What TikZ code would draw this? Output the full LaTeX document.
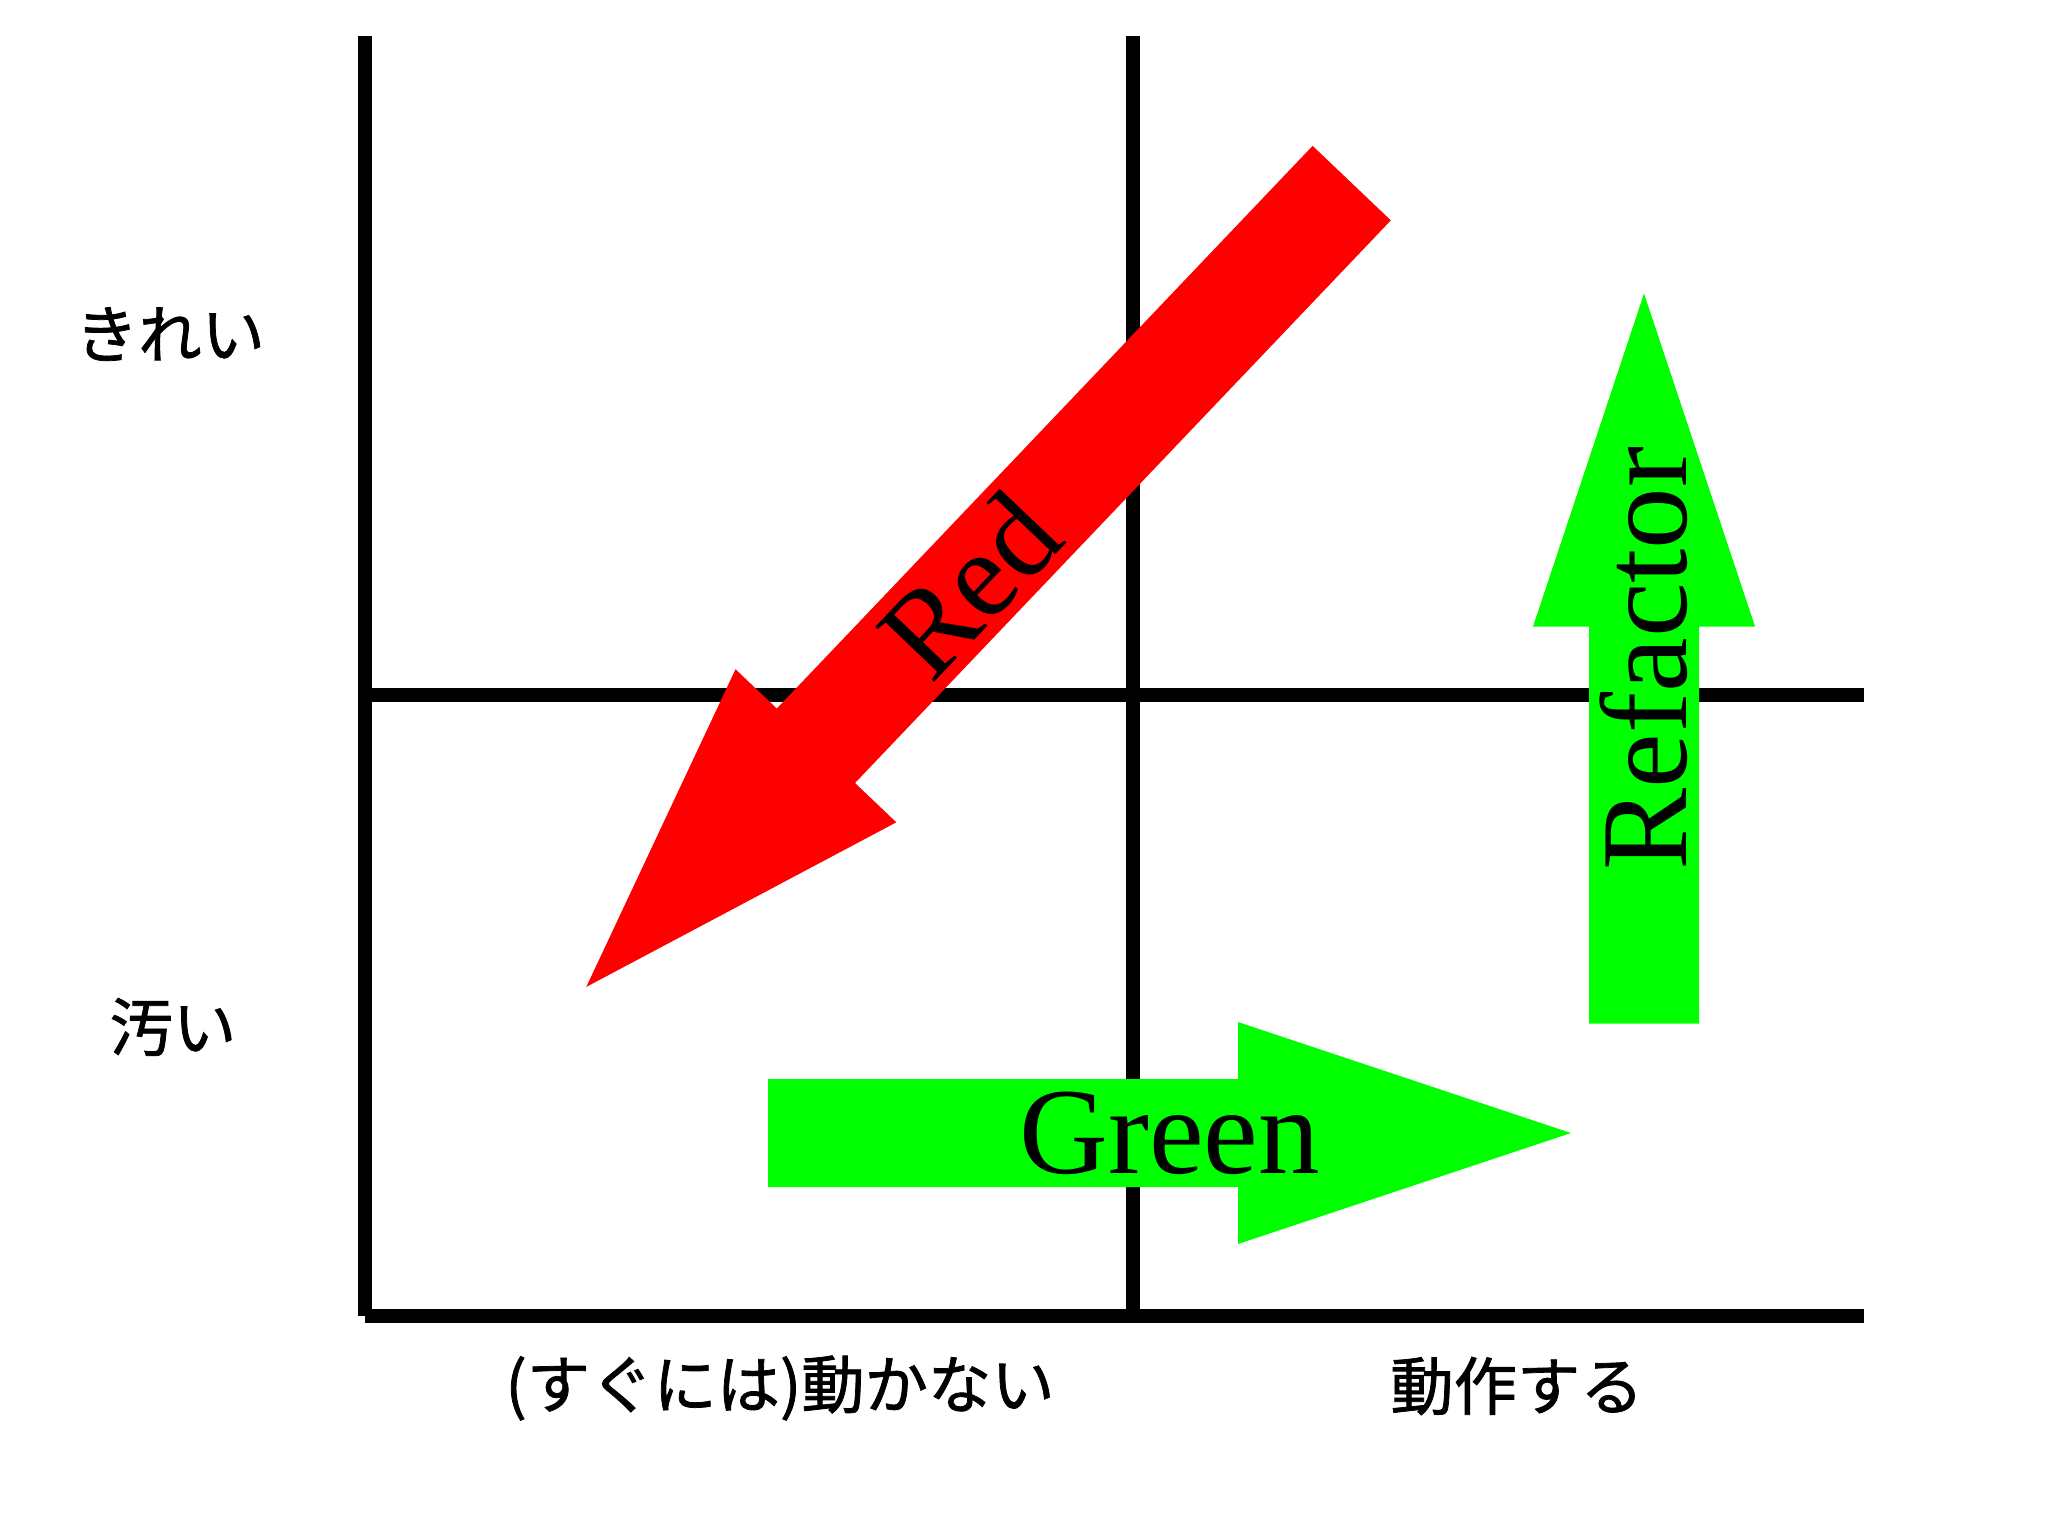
\documentclass[tikz,border=0pt]{standalone}
\usepackage{fontspec}
\setmainfont{Liberation Serif}
\newfontfamily\jpfont[FakeBold=1.2]{Noto Sans CJK JP}
\usetikzlibrary{calc}

\begin{document}
\begin{tikzpicture}[x=0.01cm, y=-0.01cm,
    axis/.style={line width=4.2pt, line cap=butt},
    jplabel/.style={font=\jpfont\fontsize{18}{22}\selectfont, inner sep=0pt},
    steplabel/.style={font=\fontsize{35}{42}\selectfont, inner sep=0pt}]
      \useasboundingbox (0, 0) rectangle (2048, 1535);

      \coordinate (topL) at (365, 36);
      \coordinate (topM) at (1133, 36);
      \coordinate (botL) at (365, 1316);
      \coordinate (botM) at (1133, 1316);
      \coordinate (botR) at (1864, 1316);
      \coordinate (midL) at (365, 695);
      \coordinate (midR) at (1864, 695);

      \draw[axis] (topL) -- (botL);
      \draw[axis] (topM) -- (botM);
      \draw[axis] (midL) -- (midR);
      \draw[axis] (botL) -- (botR);

      % Red
      \begin{scope}[shift={(969, 585)}, rotate=226.4]
        \fill[red] (-555, -54) -- (222, -54) -- (222, -111) -- (555, 0)
          -- (222, 111) -- (222, 54) -- (-555, 54) -- cycle;
      \end{scope}
      \node[steplabel, rotate=46.4] (red) at (969, 585) {Red};

      % Green
      \begin{scope}[shift={(1169.5, 1133)}]
        \fill[green] (-401.5, -54) -- (68.5, -54) -- (68.5, -111) -- (401.5, 0)
          -- (68.5, 111) -- (68.5, 54) -- (-401.5, 54) -- cycle;
      \end{scope}
      \node[steplabel] (green) at (1169.5, 1133) {Green};

      % Refactor
      \begin{scope}[shift={(1644, 658.5)}, rotate=90]
        \fill[green] (-365, -55) -- (32, -55) -- (32, -111) -- (365, 0)
          -- (32, 111) -- (32, 55) -- (-365, 55) -- cycle;
      \end{scope}
      \node[steplabel, rotate=90] (refactor) at (1644, 658.5) {Refactor};

      \node[jplabel] (clean) at (170, 334) {きれい};
      \node[jplabel] (dirty) at (173, 1027) {汚い};
      \node[jplabel] (broken) at (780, 1388) {(すぐには)動かない};
      \node[jplabel] (works) at (1517, 1386) {動作する};
    \end{tikzpicture}
\end{document}
